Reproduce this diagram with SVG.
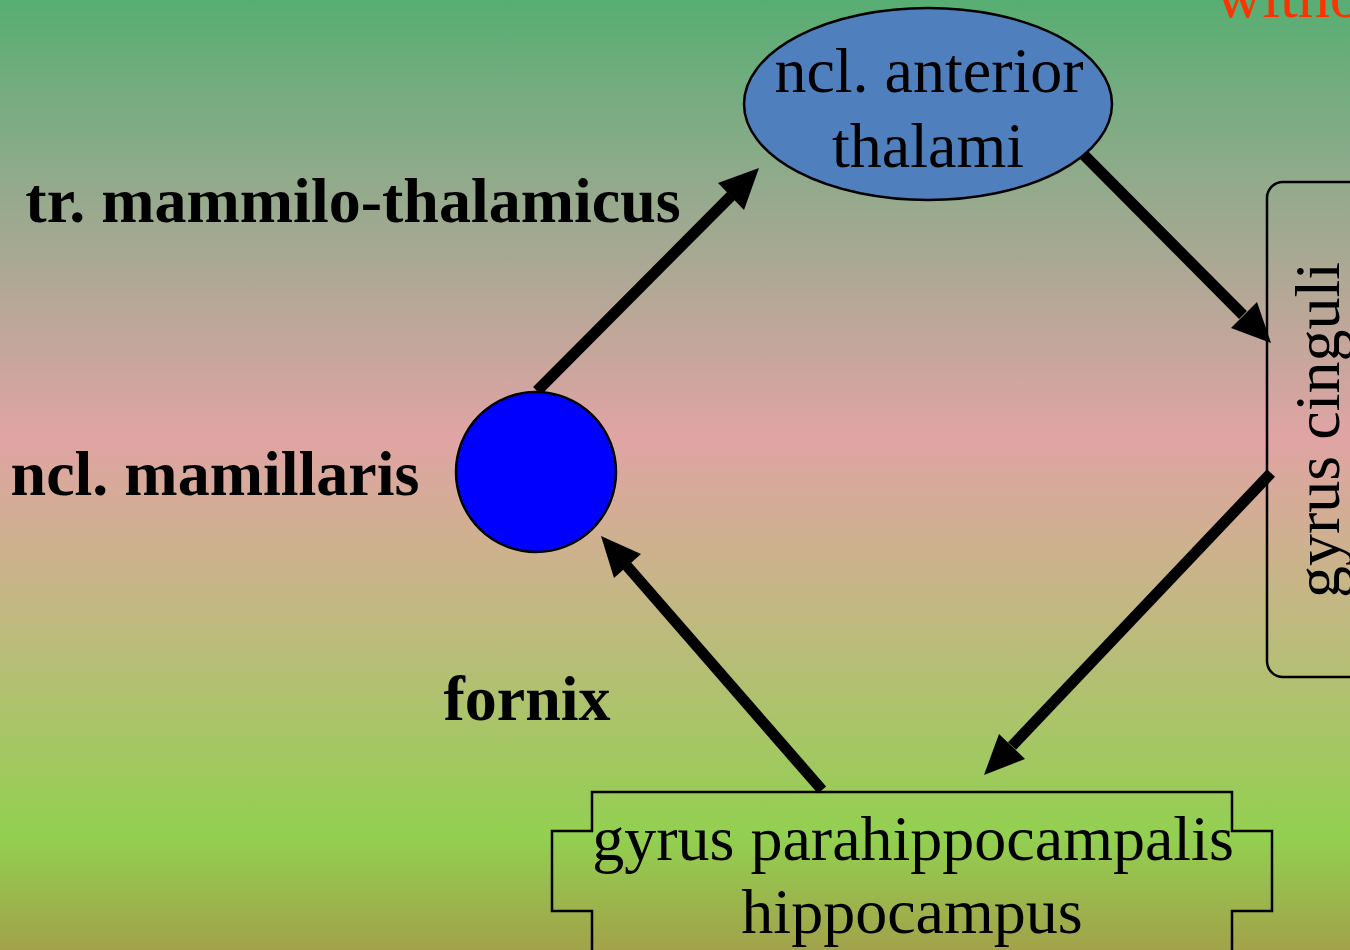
<svg xmlns="http://www.w3.org/2000/svg" width="1350" height="950" viewBox="0 0 1350 950">
<defs>
<linearGradient id="bg" x1="0" y1="0" x2="0" y2="1">
<stop offset="0" stop-color="#57ae72"/>
<stop offset="0.16" stop-color="#88ab88"/>
<stop offset="0.46" stop-color="#e0a4a4"/>
<stop offset="0.62" stop-color="#c6b686"/>
<stop offset="0.88" stop-color="#92d050"/>
<stop offset="1" stop-color="#a2a24a"/>
</linearGradient>
<style>
.t{font-family:"Liberation Serif","Times New Roman",serif;font-size:64px;fill:#000}
.b{font-family:"Liberation Serif","Times New Roman",serif;font-size:64px;font-weight:bold;fill:#000}
.ln{stroke:#000;stroke-width:11;fill:none;stroke-linecap:butt}
.hd{fill:#000}
.sh{stroke:#000;stroke-width:2.5}
</style>
</defs>
<rect x="0" y="0" width="1350" height="950" fill="url(#bg)"/>
<text x="1216" y="17" style="font-family:'Liberation Serif','Times New Roman',serif;font-size:64px;fill:#ff3300">without</text>

<g id="connectors">
<line class="ln" x1="537" y1="391" x2="731" y2="196"/>
<polygon class="hd" points="759,168 744,210 718,183"/>
<line class="ln" x1="1082" y1="153" x2="1243" y2="315"/>
<polygon class="hd" points="1271,343 1231,328 1257,302"/>
<line class="ln" x1="1271" y1="473" x2="1012" y2="746"/>
<polygon class="hd" points="984,775 999,734 1025,759"/>
<line class="ln" x1="822" y1="790" x2="627" y2="566"/>
<polygon class="hd" points="601,536 641,554 614,578"/>
</g>

<g id="node-anterior">
<ellipse class="sh" cx="928" cy="104" rx="184" ry="96" fill="#4f7fbd"/>
<text class="t" x="929" y="92" text-anchor="middle">ncl. anterior</text>
<text class="t" x="928" y="167" text-anchor="middle">thalami</text>
</g>

<g id="node-cinguli">
<rect class="sh" x="1267" y="182" width="120" height="495" rx="16" fill="none"/>
<text class="t" transform="translate(1339,430) rotate(-90)" text-anchor="middle">gyrus cinguli</text>
</g>

<g id="node-mamillaris">
<circle class="sh" cx="536" cy="472" r="80" fill="#0000ff"/>
<text class="b" x="215" y="495" text-anchor="middle">ncl. mamillaris</text>
</g>

<g id="node-hippocampus">
<path class="sh" fill="none" d="M592,960 L592,911 L552,911 L552,831 L592,831 L592,792 L1232,792 L1232,831 L1272,831 L1272,911 L1232,911 L1232,960"/>
<text class="t" x="913" y="860" text-anchor="middle">gyrus parahippocampalis</text>
<text class="t" x="912" y="933" text-anchor="middle">hippocampus</text>
</g>

<g id="labels">
<text class="b" x="353" y="222" text-anchor="middle">tr. mammilo-thalamicus</text>
<text class="b" x="527" y="720" text-anchor="middle">fornix</text>
</g>
</svg>
